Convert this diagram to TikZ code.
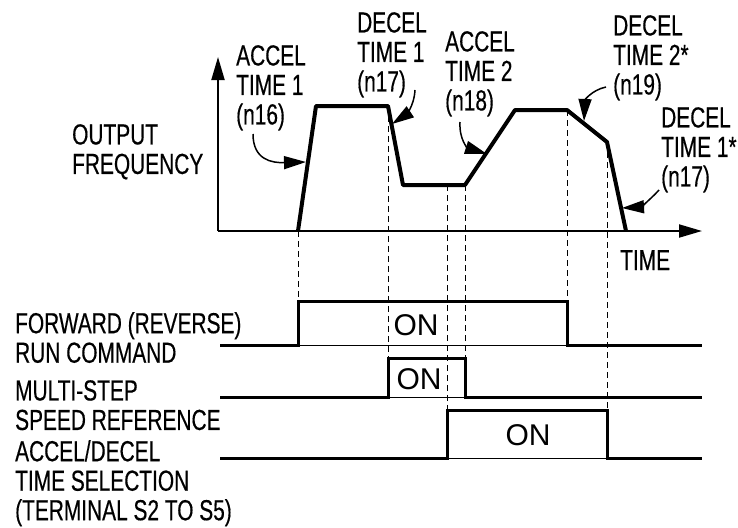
\documentclass[tikz,border=0pt]{standalone}
\usepackage{fontspec}
\setmainfont{Liberation Sans}[FakeStretch=0.72, FakeBold=0.4]
\newfontfamily\onfont{Liberation Sans}
\usetikzlibrary{arrows.meta}

\begin{document}
\begin{tikzpicture}[
    x=1pt, y=-1pt,
    lbl/.style={anchor=north west, inner sep=0pt, align=left, font=\fontsize{29}{29.5}\selectfont},
    ontext/.style={inner sep=0pt, font=\onfont\fontsize{30}{30}\selectfont},
    axis/.style={line width=2pt, -{Triangle[length=23pt,width=13pt]}},
    profile/.style={line width=4pt, line join=round},
    pulse/.style={line width=3pt},
    base/.style={line width=1pt},
    guide/.style={line width=1pt, dash pattern=on 6pt off 4pt},
    callout/.style={line width=1.5pt, -{Triangle[length=22pt,width=13pt]}}
]
\useasboundingbox (0,0) rectangle (738,527);

% frequency profile
\coordinate (origin) at (218,231);
\coordinate (ytip) at (218,57);
\coordinate (xtip) at (702,231);
\coordinate (p0) at (298,231);
\coordinate (p1) at (316,106);
\coordinate (p2) at (388,106);
\coordinate (p3) at (403,185);
\coordinate (p4) at (465,185);
\coordinate (p5) at (515,110);
\coordinate (p6) at (567,110);
\coordinate (p7) at (607,142);
\coordinate (p8) at (626,231);

\draw[axis] (origin) -- (ytip);
\draw[axis] (origin) -- (xtip);
\draw[profile] (p0) -- (p1) -- (p2) -- (p3) -- (p4) -- (p5) -- (p6) -- (p7) -- (p8);

\node[lbl] (freq) at (72,124) {OUTPUT\\FREQUENCY};
\node[lbl] (time) at (620,250) {TIME};
\node[lbl] (acc1) at (236,45) {ACCEL\\TIME 1\\(n16)};
\node[lbl] (dec1) at (357,12) {DECEL\\TIME 1\\(n17)};
\node[lbl] (acc2) at (445,31) {ACCEL\\TIME 2\\(n18)};
\node[lbl] (dec2) at (613,15) {DECEL\\TIME 2*\\(n19)};
\node[lbl] (dec1b) at (661,107) {DECEL\\TIME 1*\\(n17)};

% callout arrows
\coordinate (acc1s) at (253,134);
\coordinate (acc1e) at (306,162);
\coordinate (dec1s) at (415,90);
\coordinate (dec1e) at (392,124);
\coordinate (acc2s) at (460,122);
\coordinate (acc2e) at (487,154);
\coordinate (dec2s) at (606,87);
\coordinate (dec2e) at (584,121);
\coordinate (dec1bs) at (659,190);
\coordinate (dec1be) at (622,208);
\draw[callout] (acc1s) .. controls (253,160) and (272,163) .. (acc1e);
\draw[callout] (dec1s) .. controls (414,108) and (404,116) .. (dec1e);
\draw[callout] (acc2s) .. controls (459,140) and (468,148) .. (acc2e);
\draw[callout] (dec2s) .. controls (592,90) and (585,100) .. (dec2e);
\draw[callout] (dec1bs) .. controls (650,200) and (640,207) .. (dec1be);

% signals
\node[lbl] (run) at (15,312) {FORWARD (REVERSE)\\RUN COMMAND};
\node[lbl] (multi) at (15,380) {MULTI-STEP\\SPEED REFERENCE};
\node[lbl] (sel) at (15,440) {ACCEL/DECEL\\TIME SELECTION\\(TERMINAL S2 TO S5)};

\draw[pulse] (220,345) -| (298,301) -| (567,345) -- (702,345);
\draw[base] (298,345) -- (567,345);
\draw[pulse] (220,397) -| (388,358) -| (465,397) -- (702,397);
\draw[base] (388,397) -- (465,397);
\draw[pulse] (220,458) -| (447,410) -| (607,458) -- (702,458);
\draw[base] (447,458) -- (607,458);

\node[ontext] (on1) at (416,325) {ON};
\node[ontext] (on2) at (419,379) {ON};
\node[ontext] (on3) at (528,435) {ON};

% dashed timing guides
\draw[guide] (p0) -- (298,301);
\draw[guide] (p2) -- (388,358);
\draw[guide] (447,185) -- (447,410);
\draw[guide] (p4) -- (465,358);
\draw[guide] (p6) -- (567,301);
\draw[guide] (p7) -- (607,410);
\end{tikzpicture}
\end{document}
